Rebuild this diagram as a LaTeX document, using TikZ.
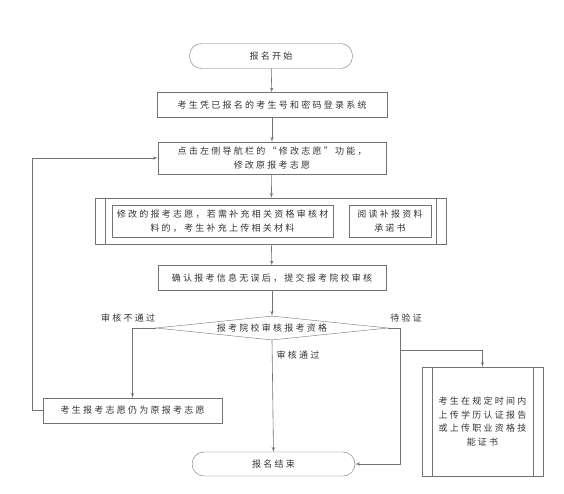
\documentclass[tikz,border=0pt]{standalone}
\usepackage{fontspec}
\newfontfamily\cjk{Noto Sans CJK SC}[LetterSpace=25]
\usepackage{tikz}
\usetikzlibrary{arrows,shapes.geometric}

\begin{document}
\begin{tikzpicture}[
  x=1pt,y=-1pt,
  font=\cjk\fontsize{9}{13.5}\selectfont,
  every node/.style={align=center,text=black!80,inner sep=0pt},
  terminal/.style={draw=black!55,rounded corners=12pt,minimum width=163,minimum height=25},
  process/.style={draw=black!55,minimum height=25},
  subproc/.style={process},
  decision/.style={draw=black!55,diamond,aspect=10,minimum width=232,minimum height=24},
  to/.style={->,>=latex',draw=black!55,semithick},
  line/.style={draw=black!55,semithick}]

  \useasboundingbox (0,0) rectangle (564,493);

  % Position the nodes at their places
  \node[terminal] (start) at (271,56) {报名开始};
  \node[process,minimum width=230] (login) at (272,105) {考生凭已报名的考生号和密码登录系统};
  \node[process,minimum width=228,minimum height=32] (modify) at (272,158) {点击左侧导航栏的“修改志愿”功能，\\修改原报考志愿};
  \node[subproc,minimum width=351,minimum height=46] (supp) at (271,221) {};
  \node[process,minimum width=221,minimum height=32] (suppa) at (222.5,221) {修改的报考志愿，若需补充相关资格审核材\\料的，考生补充上传相关材料};
  \node[process,minimum width=82,minimum height=32] (suppb) at (390,221) {阅读补报资料\\承诺书};
  \node[process,minimum width=228] (confirm) at (272,278) {确认报考信息无误后，提交报考院校审核};
  \node[decision] (check) at (272,328) {报考院校审核报考资格};
  \node[process,minimum width=179] (keep) at (132.5,410.5) {考生报考志愿仍为原报考志愿};
  \node[subproc,minimum width=121,minimum height=109] (verify) at (482.5,421.5) {考生在规定时间内\\上传学历认证报告\\或上传职业资格技\\能证书};
  \node[terminal,minimum height=24] (finish) at (273.5,464) {报名结束};

  % Labels of the branches
  \node (fail) at (128,318) {审核不通过};
  \node (wait) at (406,318) {待验证};
  \node (pass) at (298,355) {审核通过};

  % Extra side lines of the subprocess boxes
  \foreach \n in {supp,verify} {
    \draw[line] ([xshift=10]\n.north west) -- ([xshift=10]\n.south west)
      ([xshift=-10]\n.north east) -- ([xshift=-10]\n.south east);
  }

  \coordinate (turn) at (400,464);
  \coordinate (split) at (400,350);

  % Draw the arrows between the nodes
  \draw[to] (start) -- (login);
  \draw[to] (login) -- (modify);
  \draw[to] (modify) -- (supp);
  \draw[to] (supp) -- (confirm);
  \draw[to] (confirm) -- (check);
  \draw[to] (check.west) -| (keep.north);
  \draw[to] (keep.west) -- ++(-11,0) |- (modify.west);
  \draw[to] (check.south) -- (finish.north);
  \draw[to] (check.east) -| (turn) -- (finish.east);
  \draw[to] (split) -| (verify.north);
\end{tikzpicture}
\end{document}
